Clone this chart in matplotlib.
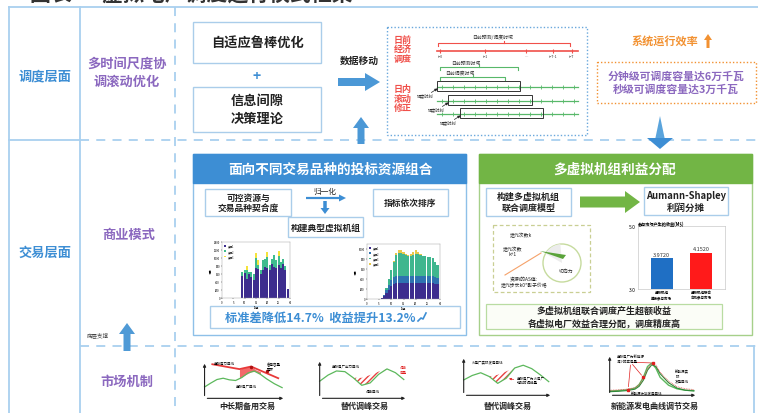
import numpy as np
import matplotlib.pyplot as plt
from matplotlib.patches import Rectangle, FancyArrow, FancyArrowPatch, Polygon, Circle

plt.rcParams['font.family'] = ['Noto Sans CJK SC', 'DejaVu Sans']

W, H = 758, 414

# colours
LINE = '#a9d0ef'
BLUE = '#3d8ed4'
PURPLE = '#8b68bf'
GREEN = '#72b545'
ORANGE = '#f29131'
EDGE = '#aacdea'
DARK = '#222222'

# stacked bars: typical virtual unit before ranking (three resource types)
bars1_x = list(range(9, 30))
bars1_a = [560, 620, 470, 600, 520, 460, 760, 720, 600, 700, 780, 740, 690, 860, 780, 760, 820, 740, 860, 700, 220]
bars1_b = [100, 90, 240, 60, 120, 140, 240, 110, 100, 260, 200, 280, 140, 120, 300, 180, 220, 150, 120, 100, 0]
bars1_c = [0, 0, 90, 0, 0, 0, 130, 110, 0, 0, 0, 140, 0, 0, 0, 0, 130, 0, 0, 0, 0]
bars1_names = ['资源1', '资源2', '资源3']

# stacked bars: combined portfolio after ranking (four resource types)
bars2_x = list(range(6, 30))
bars2_a = [20, 60, 120, 190, 260, 300, 320, 320, 320, 320, 320, 320, 320, 320, 320, 320, 320, 320, 320, 320, 320, 320, 310, 300]
bars2_b = [0, 20, 60, 100, 130, 140, 150, 150, 150, 150, 150, 150, 150, 150, 150, 150, 150, 150, 150, 150, 150, 150, 140, 130]
bars2_c = [0, 0, 40, 110, 200, 300, 420, 460, 450, 430, 410, 400, 400, 420, 430, 440, 420, 400, 390, 380, 370, 350, 300, 250]
bars2_d = [0, 0, 0, 0, 0, 20, 40, 60, 70, 40, 30, 20, 30, 60, 80, 40, 20, 0, 0, 0, 0, 0, 0, 0]
bars2_names = ['资源1', '资源2', '资源3', '资源4']

# profit of the virtual units (M$)
profit_labels = ['虚拟机组\n单独参与市场', '虚拟机组联合\n合作参与市场']
profit_values = [3.9720, 4.1520]

# schematic market curves
m1_x = [0, 0.08, 0.16, 0.24, 0.32, 0.4, 0.48, 0.56, 0.64, 0.72, 0.8, 0.9, 1.0]
m1_green = [0.35, 0.47, 0.58, 0.62, 0.57, 0.55, 0.64, 0.78, 0.84, 0.74, 0.6, 0.45, 0.33]
m1_red_x = [0.1, 0.45, 0.6, 0.95]
m1_red_y = [1.05, 0.9, 0.98, 0.62]

m2_x = [0, 0.1, 0.2, 0.3, 0.4, 0.5, 0.6, 0.7, 0.8, 0.9, 1.0]
m2_green = [0.5, 0.68, 0.8, 0.78, 0.6, 0.38, 0.45, 0.7, 0.86, 0.75, 0.55]

m3_x = [0, 0.1, 0.2, 0.3, 0.4, 0.5, 0.6, 0.7, 0.8, 0.9, 1.0]
m3_green = [0.45, 0.58, 0.66, 0.55, 0.35, 0.5, 0.8, 0.88, 0.78, 0.6, 0.4]

m4_x = [0, 0.1, 0.2, 0.3, 0.35, 0.4, 0.45, 0.5, 0.55, 0.6, 0.7, 0.8, 0.9, 1.0]
m4_plan = [0.12, 0.13, 0.15, 0.2, 0.3, 0.5, 0.8, 0.9, 0.75, 0.5, 0.28, 0.18, 0.14, 0.13]
m4_real = [0.1, 0.11, 0.13, 0.17, 0.25, 0.42, 0.7, 0.85, 0.8, 0.6, 0.35, 0.2, 0.14, 0.12]

fig = plt.figure(figsize=(W / 100, H / 100), dpi=100)
ax = fig.add_axes([0, 0, 1, 1])
ax.set_xlim(0, W)
ax.set_ylim(H, 0)
ax.axis('off')


def inset(x0, y0, x1, y1):
    return fig.add_axes([x0 / W, 1 - y1 / H, (x1 - x0) / W, (y1 - y0) / H])


def box(x0, y0, x1, y1, ec=EDGE, fc='white', lw=1.0, ls='-', z=2):
    ax.add_patch(Rectangle((x0, y0), x1 - x0, y1 - y0, ec=ec, fc=fc, lw=lw, ls=ls, zorder=z))


def txt(x, y, s, size=7, color=DARK, weight='bold', ha='center', va='center', **kw):
    ax.text(x, y, s, fontsize=size, color=color, fontweight=weight, ha=ha, va=va, zorder=5, **kw)


def arrow(x, y, dx, dy, width, hw, hl, color):
    ax.add_patch(FancyArrow(x, y, dx, dy, width=width, head_width=hw, head_length=hl,
                            length_includes_head=True, color=color, lw=0, zorder=4))


def bracket(x0, x1, y, color, lw=0.8):
    ax.plot([x0, x0, x1, x1], [y + 3, y, y, y + 3], color=color, lw=lw, zorder=3)
    xm = (x0 + x1) / 2
    ax.plot([xm, xm], [y, y - 2], color=color, lw=lw, zorder=3)


# title (cut off at top)
ax.text(30, 5, '图表一  虚拟电厂调度运行模式框架', fontsize=15, color='#333333', fontweight='bold',
        ha='left', va='bottom', clip_on=False)

# frame
ax.plot([9, W], [8, 8], color=LINE, lw=1.3)
ax.plot([9, 9], [8, H], color=LINE, lw=1.3)
ax.plot([80, 80], [8, H], color=LINE, lw=1.3)
ax.plot([9, 80], [141, 141], color=LINE, lw=1.3)
ax.plot([80, W], [141, 141], color=LINE, lw=1.3, ls=(0, (5, 4)))
ax.plot([80, W], [347, 347], color=LINE, lw=1.3, ls=(0, (5, 4)))
ax.plot([175, 175], [8, H], color=LINE, lw=1.3, ls=(0, (5, 4)))
ax.plot([754, 754], [347, H], color=LINE, lw=1.3)

# row headers
txt(45, 76, '调度层面', size=9.5, color=BLUE)
txt(45, 253, '交易层面', size=9.5, color=BLUE)
txt(127, 73, '多时间尺度协\n调滚动优化', size=9.5, color=PURPLE, linespacing=1.25)
txt(129, 235, '商业模式', size=9.5, color=PURPLE)
txt(127, 382, '市场机制', size=9.5, color=PURPLE)
txt(98, 336, '底层支撑', size=4, color='#444444', weight='normal')
arrow(127, 352, 0, -28, 7, 16, 11, '#4f9ad6')

# --- dispatch layer ---
box(193, 23, 321, 64)
txt(257, 44, '自适应鲁棒优化', size=9.5)
txt(257, 77, '+', size=10, color=BLUE)
box(193, 88, 321, 133)
txt(257, 110, '信息间隙\n决策理论', size=9.5, linespacing=1.3)
txt(359, 61, '数据移动', size=7)
arrow(338, 83, 42, 0, 8, 18, 15, '#4b98d6')
arrow(361, 145, 0, -27, 7, 16, 11, '#4b98d6')

# rolling dispatch timeline
box(387, 28, 587, 136, ec='#6aa8dc', lw=1.0, ls=(0, (1, 1.5)))
RED = '#f0504a'
LG = '#58b86a'
txt(403, 50, '日前\n经济\n调度', size=6.5, color=RED, linespacing=1.1)
txt(403, 99, '日内\n滚动\n修正', size=6.5, color=RED, linespacing=1.1)
txt(493, 37, '日前预测/调度时域', size=3.5, color='#333333', weight='normal')
bracket(438, 570, 44, RED)
ax.plot([437, 578], [52, 52], color=RED, lw=1.2, zorder=3)
for tx, tl in zip([440, 485, 526, 553, 572], ['t=0', 't=1', '…', 't=T-1', 't=T']):
    ax.plot([tx], [52], marker='|', color=RED, ms=3, mew=0.8, zorder=3)
    txt(tx, 57, tl, size=2.5, color='#333333', weight='normal')
txt(466, 63, '日前预测时域', size=3.5, color='#333333', weight='normal')
bracket(440, 518, 68, LG)
txt(460, 73, '日前调度时域', size=3.5, color='#333333', weight='normal')
bracket(440, 505, 78, LG)
for gy, bx0, bx1 in [(88, 437, 520), (102, 448, 532), (115, 460, 543)]:
    ax.plot([437, 578], [gy, gy], color=LG, lw=0.9, zorder=3)
    for tx in np.arange(442, 578, 11):
        ax.plot([tx], [gy], marker='|', color=LG, ms=2.5, mew=0.6, zorder=3)
    box(bx0, gy - 6, bx1, gy + 4, ec='#333333', fc='none', lw=0.7, z=4)
    txt(bx0 - 12, gy + 9, '调度时刻', size=3, color='#333333', weight='normal')
    ax.annotate('', xy=(bx0 + 3, gy), xytext=(bx0 - 8, gy + 7),
                arrowprops=dict(arrowstyle='-|>', color='#222222', lw=0.5, mutation_scale=4), zorder=5)

# efficiency
txt(665, 42, '系统运行效率', size=8, color=ORANGE)
arrow(708, 49, 0, -14, 3, 8, 6, ORANGE)
box(597, 63, 756, 104, ec=ORANGE, lw=1.0, ls=(0, (1, 1.5)))
txt(676, 83, '分钟级可调度容量达6万千瓦\n秒级可调度容量达3万千瓦', size=7.8, color=PURPLE, linespacing=1.3)
ax.add_patch(Polygon([(660, 117), (655, 141), (665, 141)], color='#5aa4dc', lw=0, zorder=4))
ax.add_patch(Polygon([(647, 139), (673, 139), (660, 150)], color='#3d8ed4', lw=0, zorder=4))

# --- bidding resource combination panel ---
box(193, 155, 466, 336, ec='#8ec0e8', lw=1.0)
box(193, 155, 466, 184, ec=BLUE, fc=BLUE, lw=1.0)
txt(330, 170, '面向不同交易品种的投标资源组合', size=9.8, color='white')
box(205, 190, 291, 217)
txt(248, 203.5, '可控资源与\n交易品种契合度', size=6.3, linespacing=1.25)
txt(325, 192, '归一化', size=5.5, weight='normal')
arrow(306, 199, 40, 0, 2.2, 7, 7, BLUE)
arrow(325, 202, 0, 13, 3.5, 9, 6, BLUE)
box(288, 218, 363, 238)
txt(325.5, 228, '构建典型虚拟机组', size=6.3)
box(373, 190, 448, 217)
txt(410.5, 203.5, '指标依次排序', size=6.3)
box(210, 307, 460, 329)
txt(320, 318, '标准差降低14.7%  收益提升13.2%', size=8.8, color=BLUE)
ax.plot([418, 421, 423, 426], [322, 319, 320, 314], color=BLUE, lw=1.2, zorder=5)

vir = ['#3f2b8c', '#2f8a8c', '#3fbc74', '#f0d43a']


def tiny_axes(a):
    a.tick_params(labelsize=2, length=1, width=0.3, pad=0.5)
    for s in a.spines.values():
        s.set_linewidth(0.3)
        s.set_color('#999999')


a1 = inset(222, 243, 290, 299)
a1.bar(bars1_x, bars1_a, width=0.9, color='#3d2d8e', label=bars1_names[0])
a1.bar(bars1_x, bars1_b, width=0.9, bottom=bars1_a, color='#3fbc8e', label=bars1_names[1])
a1.bar(bars1_x, bars1_c, width=0.9, bottom=np.add(bars1_a, bars1_b), color='#f4e33c', label=bars1_names[2])
a1.set_xlim(0, 30)
a1.set_ylim(0, 1400)
a1.set_xlabel('时段', fontsize=2, labelpad=0.5)
a1.set_ylabel('功率', fontsize=2, labelpad=0.5)
a1.legend(loc='upper left', fontsize=1.8, handlelength=1, borderpad=0.2, frameon=False)
tiny_axes(a1)

a2 = inset(367, 245, 440, 300)
b2 = np.array(bars2_a)
a2.bar(bars2_x, bars2_a, width=0.9, color='#3d2d8e', label=bars2_names[0])
a2.bar(bars2_x, bars2_b, width=0.9, bottom=b2, color='#2f72b0', label=bars2_names[1])
b2 = b2 + np.array(bars2_b)
a2.bar(bars2_x, bars2_c, width=0.9, bottom=b2, color='#3fb68e', label=bars2_names[2])
b2 = b2 + np.array(bars2_c)
a2.bar(bars2_x, bars2_d, width=0.9, bottom=b2, color='#e8c84a', label=bars2_names[3])
a2.set_xlim(0, 30)
a2.set_ylim(0, 1100)
a2.set_xlabel('时段', fontsize=2, labelpad=0.5)
a2.set_ylabel('功率', fontsize=2, labelpad=0.5)
a2.legend(loc='upper left', fontsize=1.8, handlelength=1, borderpad=0.2, frameon=False)
tiny_axes(a2)

# --- benefit allocation panel ---
box(479, 155, 752, 336, ec='#a6d08a', lw=1.0)
box(479, 155, 752, 184, ec=GREEN, fc=GREEN, lw=1.0)
txt(615, 170, '多虚拟机组利益分配', size=9.8, color='white')
box(486, 189, 571, 217)
txt(528.5, 203, '构建多虚拟机组\n联合调度模型', size=6.5, linespacing=1.25)
arrow(580, 203, 60, 0, 11, 22, 15, GREEN)
box(644, 188, 728, 216)
txt(686, 202, 'Aumann-Shapley\n利润分摊', size=6.8, linespacing=1.2)

box(493, 226, 590, 293, ec='#c9cf93', lw=0.9, ls=(0, (3, 2)))
ax.add_patch(Circle((562, 264), 19, ec='#c6db9e', fc='none', lw=1.0, zorder=3))
ga = np.radians(np.linspace(95, 150, 12))
ax.add_patch(Polygon([(562, 264)] + [(562 + 19 * np.cos(t), 264 - 19 * np.sin(t)) for t in ga],
                     fc='#ececec', ec='none', zorder=3))
ax.add_patch(Polygon([(540, 252), (566, 256), (563, 260)], fc='#5aa33a', ec='none', zorder=4))
ax.plot([505, 541], [276, 254], color='#f5a26a', lw=0.8, zorder=4)
txt(521, 235, '迭代次数k', size=3.5, weight='normal')
txt(513, 252, '迭代次数\nk+1', size=3.5, weight='normal', linespacing=1.1)
txt(524, 283, '资源i的AS值:\n迭代步长k0*影子价格', size=3.5, weight='normal', linespacing=1.2)
txt(566, 271, '切向力', size=3.5, weight='normal')

a3 = inset(638, 227, 725, 290)
a3.bar([0, 1], profit_values, width=0.55, color=['#1f6fc4', '#ff1a1a'])
for i, v in enumerate(profit_values):
    a3.text(i, v + 0.04, '%.4f' % v, ha='center', va='bottom', fontsize=4, color='#333333')
a3.set_xlim(-0.6, 1.6)
a3.set_ylim(3, 5)
a3.set_yticks([3.0, 5.0])
a3.set_yticklabels(['3.0', '5.0'])
a3.set_xticks([0, 1])
a3.set_xticklabels(profit_labels, fontsize=2.5, fontweight='bold')
a3.tick_params(axis='y', labelsize=3.5, length=0, pad=2)
a3.tick_params(axis='x', length=0, pad=1)
for s in a3.spines.values():
    s.set_linewidth(0.4)
    s.set_color('#bbbbbb')
a3.set_title('参与市场产生的收益(M$)', fontsize=3, loc='left', pad=1, fontweight='bold')
txt(661, 238, '收益增加', size=5, color='#ff2020')
ax.add_patch(FancyArrowPatch((670, 247), (692, 236), connectionstyle='arc3,rad=0.4',
                             arrowstyle='simple,head_width=4,head_length=4,tail_width=2.5',
                             color='#ee1c1c', lw=0, zorder=6))

box(486, 305, 722, 330, ec='#b9dca2', fc='#fbfdf7', lw=0.9)
txt(604, 317.5, '多虚拟机组联合调度产生超额收益\n各虚拟电厂效益合理分配，调度精度高', size=6.5, linespacing=1.35)


# --- market mechanism sketches ---
def sketch(x0, y0, x1, y1, label, lx):
    a = inset(x0, y0, x1, y1)
    a.set_xlim(-0.02, 1.05)
    a.set_ylim(-0.02, 1.15)
    a.axis('off')
    a.annotate('', xy=(1.05, 0), xytext=(0, 0),
               arrowprops=dict(arrowstyle='-|>', lw=0.8, color='#222222', mutation_scale=4))
    a.annotate('', xy=(0, 1.15), xytext=(0, 0),
               arrowprops=dict(arrowstyle='-|>', lw=0.8, color='#222222', mutation_scale=4))
    txt(lx, 406, label, size=5.8)
    return a


s1 = sketch(203, 362, 286, 400, '中长期备用交易', 247)
s1.plot(m1_x, m1_green, color='#5cb85c', lw=0.9)
s1.plot(m1_red_x, m1_red_y, color='#e83a3a', lw=1.3)
s1.fill_between([0.45, 0.52, 0.6, 0.66, 0.72], [0.62, 0.72, 0.82, 0.83, 0.74],
                [0.9, 0.95, 0.98, 0.88, 0.82], color='#f26a6a', lw=0)
s1.plot([0.6, 0.8], [0.97, 0.85], 'o', color='#b01010', ms=1.5)
s1.text(0.12, 1.1, '虚拟电力曲线', fontsize=2.5, va='center')
s1.text(0.8, 0.97, '备用容量\n需求', fontsize=2.5, va='center')
s1.text(0.4, 0.4, '虚拟电厂曲线', fontsize=2.5, va='center')

s2 = sketch(318, 360, 408, 400, '替代调峰交易', 365)
s2.plot(m2_x, m2_green, color='#5cb85c', lw=0.9)
s2.fill_between(m2_x[4:9], m2_green[4:9], [0.6, 0.6, 0.68, 0.78, 0.86],
                facecolor='none', edgecolor='#e84040', hatch='//////', lw=0)
s2.text(0.15, 0.95, '虚拟电厂出力曲线', fontsize=2.5, va='center')
s2.text(0.55, 0.22, '调峰曲线', fontsize=2.5, va='center')
s2.text(0.95, 0.85, '调峰\n电量', fontsize=2.5, color='#e02020', va='center')

s3 = sketch(462, 357, 553, 397, '替代调峰交易', 508)
s3.plot(m3_x, m3_green, color='#5cb85c', lw=0.9)
s3.fill_between(m3_x[3:7], m3_green[3:7], [0.55, 0.6, 0.7, 0.8],
                facecolor='none', edgecolor='#e84040', hatch='//////', lw=0)
s3.text(0.1, 1.0, '火电厂实际发电曲线', fontsize=2.5, va='center')
s3.text(0.62, 0.45, '虚拟电厂为火电厂\n增加的调峰量', fontsize=2.5, va='center')
s3.annotate('', xy=(0.5, 0.5), xytext=(0.62, 0.45),
            arrowprops=dict(arrowstyle='-|>', lw=0.5, color='#e02020', mutation_scale=3))

s4 = sketch(608, 355, 698, 397, '新能源发电曲线调节交易', 655)
s4.plot(m4_x, m4_plan, color='#5cb85c', lw=1.0)
s4.plot(m4_x, m4_real, color='#2f8a3a', lw=0.8)
s4.plot(m4_x, np.add(m4_real, 0.04), color='#e05050', lw=0.6, ls=(0, (1, 1)))
for px, py in [(0.22, 0.16), (0.4, 0.5), (0.52, 0.9)]:
    s4.plot([px], [py], 's', color='#e02020', ms=1.6)
    s4.annotate('', xy=(px, py), xytext=(0.25, 0.92),
                arrowprops=dict(arrowstyle='-', lw=0.5, color='#e02020'))
s4.text(0.08, 1.02, '虚拟电厂为新能源\n减少的弃电量', fontsize=2.5, va='center')
s4.text(0.78, 0.55, '新能源实\n际\n发电曲线', fontsize=2.5, va='center')
s4.text(0.25, 0.04, '新能源计划发电曲线', fontsize=2.5, va='center')

fig.savefig('out.png', dpi=100)
